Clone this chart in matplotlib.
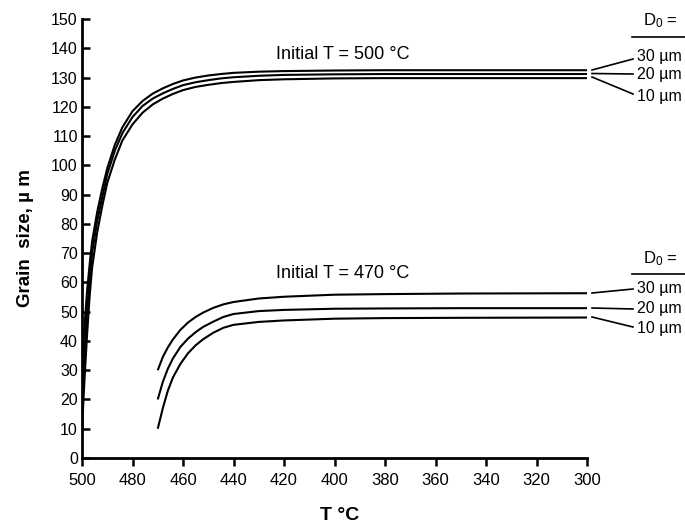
import matplotlib
matplotlib.use("Agg")
import matplotlib.pyplot as plt
from matplotlib.lines import Line2D

plt.rcParams['font.family'] = ['Liberation Sans', 'DejaVu Sans']
plt.rcParams['mathtext.fontset'] = 'custom'
plt.rcParams['mathtext.rm'] = 'Liberation Sans'

# Initial T = 500 C group
t_500 = [500, 499, 498, 497, 496, 494, 492, 490, 487, 484, 480, 476, 472,
         468, 464, 460, 455, 450, 445, 440, 430, 420, 400, 380, 350, 300]
g500_30 = [30, 45, 57, 66, 74, 84, 92, 99, 107, 113, 118.5, 122, 124.5,
           126.3, 127.8, 129.0, 130.0, 130.7, 131.2, 131.6, 132.0, 132.2,
           132.4, 132.5, 132.5, 132.5]
g500_20 = [20, 36, 50, 61, 70, 81, 89, 97, 105, 111, 116.5, 120.3, 122.8,
           124.6, 126.1, 127.4, 128.4, 129.1, 129.7, 130.1, 130.6, 130.9,
           131.1, 131.2, 131.2, 131.2]
g500_10 = [10, 27, 42, 55, 65, 77, 86, 94, 102, 108.5, 114, 118, 120.8,
           122.8, 124.4, 125.7, 126.8, 127.5, 128.1, 128.5, 129.1, 129.4,
           129.7, 129.8, 129.8, 129.8]

# Initial T = 470 C group
t_470 = [470, 468, 466, 464, 461, 458, 455, 452, 448, 444, 440, 430, 420,
         400, 380, 350, 300]
g470_30 = [30, 34.5, 37.8, 40.5, 43.8, 46.3, 48.2, 49.7, 51.3, 52.5, 53.3,
           54.5, 55.1, 55.8, 56.0, 56.2, 56.3]
g470_20 = [20, 26, 30.5, 34, 38, 40.8, 43, 44.8, 46.6, 48.2, 49.2, 50.2,
           50.6, 51.0, 51.1, 51.2, 51.2]
g470_10 = [10, 17, 23, 27.5, 32.2, 35.8, 38.5, 40.6, 42.8, 44.5, 45.5,
           46.5, 47.0, 47.6, 47.8, 47.9, 48.0]

d0_labels = ['30 \u00b5m', '20 \u00b5m', '10 \u00b5m']

W, H = 685, 531
fig = plt.figure(figsize=(W / 100, H / 100), dpi=100)
ax = fig.add_axes([82 / W, 1 - 458 / H, (587 - 82) / W, (458 - 19) / H])

lw = 1.5
for ys in (g500_30, g500_20, g500_10):
    ax.plot(t_500, ys, color='black', lw=lw, solid_capstyle='butt')
for ys in (g470_30, g470_20, g470_10):
    ax.plot(t_470, ys, color='black', lw=lw, solid_capstyle='butt')

ax.set_xlim(500, 300)
ax.set_ylim(0, 150)
ax.set_xticks(range(500, 299, -20))
ax.set_yticks(range(0, 151, 10))
ax.spines['top'].set_visible(False)
ax.spines['right'].set_visible(False)
ax.spines['left'].set_linewidth(2)
ax.spines['bottom'].set_linewidth(2)
ax.tick_params(axis='x', direction='out', length=6, width=1.8, labelsize=12, pad=5)
ax.tick_params(axis='y', direction='in', length=6, width=1.8, labelsize=11.5, pad=3)

ax.set_ylabel('Grain  size, \u00b5 m', fontsize=13.5, fontweight='bold', labelpad=12)


def fpx(x, y):
    return x / W, 1 - y / H


# x axis title placed in figure pixels so it is not clipped
fig.text(*fpx(340, 516), 'T \u00b0C', fontsize=14, fontweight='bold',
         ha='center', va='center')

ax.text(0.385, 0.92, 'Initial T = 500 \u00b0C', transform=ax.transAxes,
        fontsize=13, ha='left', va='center')
ax.text(0.385, 0.42, 'Initial T = 470 \u00b0C', transform=ax.transAxes,
        fontsize=13, ha='left', va='center')


def leader_block(y_head, y_rule, starts, ends, label_ys):
    fig.text(*fpx(660, y_head), '$\\mathregular{D_0}$ =', fontsize=12,
             ha='center', va='center')
    fig.add_artist(Line2D([632 / W, 685 / W], [1 - y_rule / H] * 2,
                          color='black', lw=1.2))
    for y0, y1, ly, lab in zip(starts, ends, label_ys, d0_labels):
        (x0, yy0), (x1, yy1) = fpx(592, y0), fpx(633, y1)
        fig.add_artist(Line2D([x0, x1], [yy0, yy1], color='black', lw=1.2))
        fig.text(*fpx(637, ly), lab, fontsize=11.5, ha='left', va='center')


leader_block(21, 37, [70, 73.5, 77], [59, 74, 94], [57, 75, 96])
leader_block(259, 274, [293, 308, 317], [289, 309, 327], [289, 308, 328])

fig.savefig('out.png', dpi=100)
